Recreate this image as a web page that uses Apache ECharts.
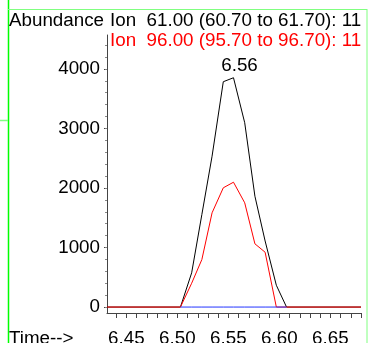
<!DOCTYPE html>
<html>
<head>
<meta charset="utf-8">
<script src="https://cdn.jsdelivr.net/npm/echarts@6/dist/echarts.min.js"></script>
<style>
html,body{margin:0;padding:0;background:#fff;}
#c{width:370px;height:343px;}
</style>
</head>
<body>
<div id="c"></div>
<script>
// Data
var times = [6.431, 6.503, 6.514, 6.524, 6.534, 6.545, 6.555, 6.566, 6.576, 6.586, 6.597, 6.607, 6.680];
var ion61 = [0, 0, 575, 1555, 2534, 3785, 3852, 3096, 1862, 1110, 366, 0, 0];
var ion96 = [0, 0, 400, 798, 1583, 2003, 2097, 1751, 1062, 921, 0, 0, 0];
var baseline = [null, 0, 0, 0, 0, 0, 0, 0, 0, 0, 0, 0, null];
var xTickLabels = [6.45, 6.50, 6.55, 6.60, 6.65];
var yTickLabels = [0, 1000, 2000, 3000, 4000];
var peakLabel = '6.56';
var titleY = 'Abundance';
var titleX = 'Time-->';
var legend1 = 'Ion  61.00 (60.70 to 61.70): 11';
var legend2 = 'Ion  96.00 (95.70 to 96.70): 11';

var xMinor = [];
for (var i = 44; i <= 68; i++) xMinor.push(6 + i / 100);
var yMinor = [];
for (var v = 0; v <= 4400; v += 200) yMinor.push(v);

function pairs(vals) {
  return times.map(function (t, i) { return [t, vals[i]]; });
}
var peakIdx = ion61.indexOf(Math.max.apply(null, ion61));

var FONT = 'Liberation Sans, Arial, sans-serif';
var FS = 18.8;
var AX = '#444';

var chart = echarts.init(document.getElementById('c'), null, {renderer: 'canvas'});
chart.setOption({
  animation: false,
  backgroundColor: '#fff',
  textStyle: {fontFamily: FONT},
  title: [
    {text: titleY, left: 9, top: 11, textStyle: {fontFamily: FONT, fontSize: FS, fontWeight: 'normal', color: '#000'}, padding: 0},
    {text: legend1, left: 110, top: 11, textStyle: {fontFamily: FONT, fontSize: FS, fontWeight: 'normal', color: '#000'}, padding: 0},
    {text: legend2, left: 110, top: 31, textStyle: {fontFamily: FONT, fontSize: FS, fontWeight: 'normal', color: '#ff0000'}, padding: 0},
    {text: titleX, left: 9, top: 329, textStyle: {fontFamily: FONT, fontSize: FS, fontWeight: 'normal', color: '#000'}, padding: 0}
  ],
  grid: {left: 107, right: 9, top: 35, bottom: 30, containLabel: false, outerBoundsMode: 'none'},
  xAxis: {
    type: 'value', min: 6.431, max: 6.680,
    axisLine: {show: true, onZero: false, lineStyle: {color: AX, width: 1}},
    axisTick: {show: true, customValues: xMinor, length: 5, inside: false, lineStyle: {color: AX}},
    axisLabel: {show: true, customValues: xTickLabels, margin: 16, color: '#000', fontFamily: FONT, fontSize: FS,
      formatter: function (v) { return v.toFixed(2); }},
    splitLine: {show: false}
  },
  yAxis: [
    {
      type: 'value', min: -100, max: 4570, position: 'left',
      axisLine: {show: true, lineStyle: {color: AX, width: 1}},
      axisTick: {show: true, customValues: yTickLabels, length: 3, lineStyle: {color: AX}},
      axisLabel: {show: true, customValues: yTickLabels, margin: 7, color: '#000', fontFamily: FONT, fontSize: FS,
        formatter: function (v) { return String(v); }},
      splitLine: {show: false}
    },
    {
      type: 'value', min: -100, max: 4570, position: 'left',
      axisLine: {show: false},
      axisTick: {show: true, customValues: yMinor, length: 2, lineStyle: {color: '#888'}},
      axisLabel: {show: false},
      splitLine: {show: false}
    }
  ],
  series: [
    {
      type: 'line', name: 'Ion 61', data: pairs(ion61), showSymbol: false, symbol: 'none',
      lineStyle: {color: '#000', width: 1}, z: 2,
      markPoint: {
        symbol: 'circle', symbolSize: 1, itemStyle: {color: 'rgba(0,0,0,0)'},
        label: {show: true, position: 'top', distance: 0, offset: [6, -2], formatter: peakLabel, color: '#000', fontFamily: FONT, fontSize: FS},
        data: [{coord: [times[peakIdx], ion61[peakIdx]]}]
      }
    },
    {
      type: 'line', name: 'Ion 96', data: pairs(ion96), showSymbol: false, symbol: 'none',
      lineStyle: {color: '#ff0000', width: 1}, z: 3
    },
    {
      type: 'line', name: 'base', data: pairs(baseline), showSymbol: false, symbol: 'none',
      lineStyle: {color: '#2233ff', width: 1}, z: 4
    }
  ],
  graphic: [
    {type: 'line', shape: {x1: 8.5, y1: 0, x2: 8.5, y2: 343}, style: {stroke: '#00ff00', lineWidth: 1.5}, silent: true},
    {type: 'line', shape: {x1: 8, y1: 9.5, x2: 367, y2: 9.5}, style: {stroke: '#80ff80', lineWidth: 1}, silent: true},
    {type: 'line', shape: {x1: 367, y1: 9, x2: 367, y2: 343}, style: {stroke: '#80ff80', lineWidth: 1}, silent: true},
    {type: 'line', shape: {x1: 0, y1: 120.5, x2: 8, y2: 120.5}, style: {stroke: '#80ff80', lineWidth: 1.5}, silent: true}
  ]
});
</script>
</body>
</html>
